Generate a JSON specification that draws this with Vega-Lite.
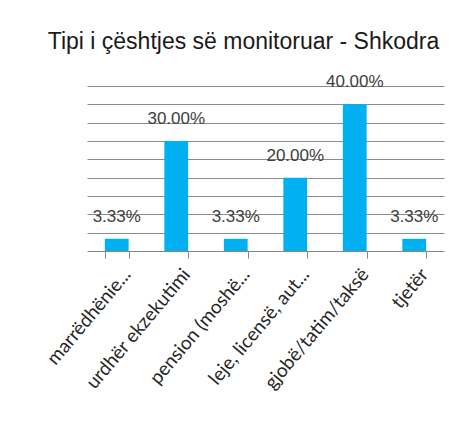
{
  "$schema": "https://vega.github.io/schema/vega-lite/v6.json",
  "autosize": "none",
  "width": 357,
  "height": 165,
  "padding": {"left": 87, "top": 86, "right": 5, "bottom": 174},
  "background": "white",
  "config": {"view": {"stroke": null}},
  "title": {
    "text": "Tipi i çështjes së monitoruar - Shkodra",
    "font": "Liberation Sans",
    "fontSize": 23,
    "fontWeight": "normal",
    "color": "#1a1a1a",
    "anchor": "middle",
    "frame": "group",
    "dx": -22,
    "offset": 19
  },
  "data": {
    "values": [
      {"category": "marrëdhënie...", "value": 0.0333, "label": "3.33%"},
      {"category": "urdhër ekzekutimi", "value": 0.30, "label": "30.00%"},
      {"category": "pension (moshë...", "value": 0.0333, "label": "3.33%"},
      {"category": "leje, licensë, aut...", "value": 0.20, "label": "20.00%"},
      {"category": "gjobë/tatim/taksë", "value": 0.40, "label": "40.00%"},
      {"category": "tjetër", "value": 0.0333, "label": "3.33%"}
    ]
  },
  "encoding": {
    "x": {
      "field": "category",
      "type": "nominal",
      "sort": null,
      "scale": {"paddingInner": 0.6, "paddingOuter": 0.3},
      "axis": {
        "title": null,
        "labelAngle": -50,
        "labelAlign": "right",
        "labelBaseline": "top",
        "labelFont": "Lato",
        "labelFontSize": 19,
        "labelColor": "#262626",
        "labelPadding": 7,
        "labelOffset": 3,
        "labelLimit": 300,
        "tickBand": "extent",
        "tickColor": "#868686",
        "tickSize": 7,
        "domainColor": "#868686",
        "grid": false
      }
    },
    "y": {
      "field": "value",
      "type": "quantitative",
      "scale": {"domain": [0, 0.45], "nice": false},
      "axis": {
        "title": null,
        "labels": false,
        "ticks": false,
        "domain": false,
        "values": [0.05, 0.1, 0.15, 0.2, 0.25, 0.3, 0.35, 0.4, 0.45],
        "gridColor": "#8c8c8c",
        "gridWidth": 1
      }
    }
  },
  "layer": [
    {"mark": {"type": "bar", "color": "#00b0f0"}},
    {
      "mark": {"type": "text", "baseline": "middle", "dy": -22, "font": "Liberation Sans", "fontSize": 17, "color": "#404040"},
      "encoding": {"text": {"field": "label"}}
    }
  ]
}
